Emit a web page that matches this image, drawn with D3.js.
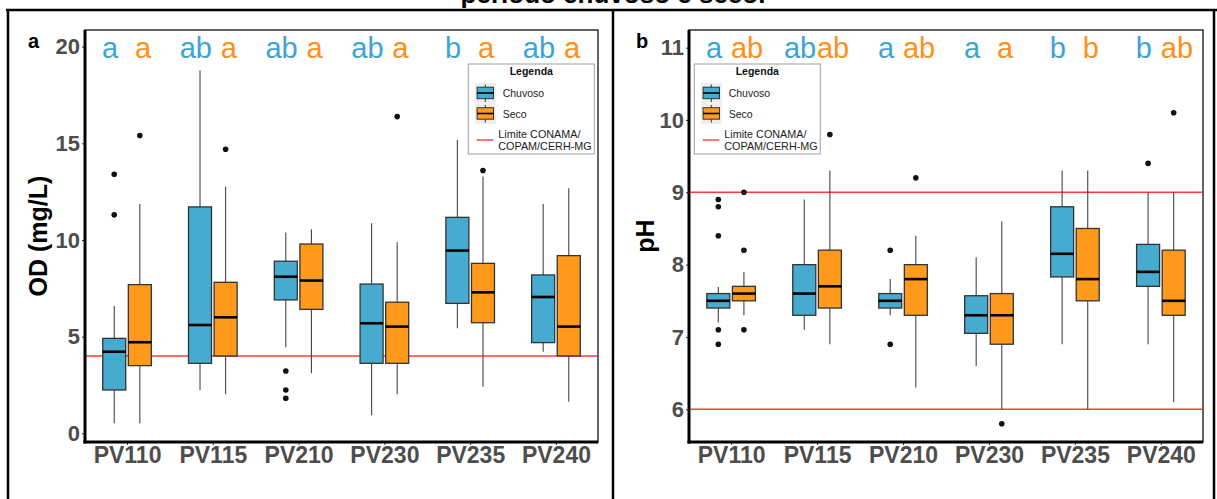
<!DOCTYPE html>
<html>
<head>
<meta charset="utf-8">
<script src="https://cdn.jsdelivr.net/npm/d3@7"></script>
<style>
  html, body { margin: 0; padding: 0; background: #fff; }
  svg { display: block; font-family: Arial, "Liberation Sans", Helvetica, sans-serif; }
</style>
</head>
<body>
<svg id="chart" width="1217" height="499"></svg>
<script>
// ---- data -------------------------------------------------------------
const categories = ["PV110", "PV115", "PV210", "PV230", "PV235", "PV240"];

// five-number summaries per station: [lower whisker, Q1, median, Q3, upper whisker]
const odChuvoso = [
  [0.52, 2.24, 4.22, 4.91, 6.59],
  [2.24, 3.62, 5.60, 11.71, 18.76],
  [4.45, 6.90, 8.10, 8.90, 10.38],
  [0.93, 3.62, 5.69, 7.72, 10.86],
  [5.43, 6.72, 9.45, 11.17, 15.17],
  [4.22, 4.69, 7.05, 8.19, 11.86]
];
const odSeco = [
  [0.52, 3.50, 4.71, 7.69, 11.86],
  [2.02, 4.00, 6.00, 7.81, 12.76],
  [3.10, 6.41, 7.90, 9.79, 10.55],
  [2.02, 3.62, 5.52, 6.78, 9.88],
  [2.41, 5.72, 7.29, 8.79, 13.28],
  [1.63, 4.00, 5.52, 9.19, 12.67]
];
const odChuvosoOutliers = [[13.4, 11.3], [], [3.22, 2.24, 1.81], [], [], []];
const odSecoOutliers = [[15.4], [14.69], [], [16.38], [13.59], []];

const phChuvoso = [
  [7.2, 7.4, 7.5, 7.6, 7.69],
  [7.1, 7.3, 7.6, 8.0, 8.9],
  [7.3, 7.4, 7.5, 7.6, 7.8],
  [6.6, 7.05, 7.3, 7.57, 8.1],
  [6.9, 7.83, 8.15, 8.8, 9.3],
  [6.9, 7.7, 7.9, 8.28, 9.0]
];
const phSeco = [
  [7.3, 7.5, 7.6, 7.7, 7.9],
  [6.9, 7.4, 7.7, 8.2, 9.3],
  [6.3, 7.3, 7.8, 8.0, 8.4],
  [6.0, 6.9, 7.3, 7.6, 8.6],
  [6.0, 7.5, 7.8, 8.5, 9.3],
  [6.1, 7.3, 7.5, 8.2, 9.0]
];
const phChuvosoOutliers = [[8.9, 8.8, 8.4, 7.1, 6.9], [], [8.2, 6.9], [], [], [9.4]];
const phSecoOutliers = [[9.0, 8.2, 7.1], [9.8], [9.2], [5.8], [], [10.1]];

// significance letters
const odLettersChuvoso = ["a", "ab", "ab", "ab", "b", "ab"];
const odLettersSeco = ["a", "a", "a", "a", "a", "a"];
const phLettersChuvoso = ["a", "ab", "a", "a", "b", "b"];
const phLettersSeco = ["ab", "ab", "ab", "a", "b", "ab"];

const odTicks = [0, 5, 10, 15, 20];
const phTicks = [6, 7, 8, 9, 10, 11];
const odLimits = [4];
const phLimits = [6, 9];

const seasons = ["Chuvoso", "Seco"];
const legendTitle = "Legenda";
const limitLabel = ["Limite CONAMA/", "COPAM/CERH-MG"];

// ---- styling ----------------------------------------------------------
const fillColor = { Chuvoso: "#47AACF", Seco: "#FF9A1C" };
const letterColor = { Chuvoso: "#3CA4D3", Seco: "#FF8E1A" };
const tickGray = "#4d4d4d";

const svg = d3.select("#chart");

// heading line (sits above the frame)
svg.append("text")
  .attr("x", 613).attr("y", 3)
  .attr("text-anchor", "middle")
  .attr("font-size", 26).attr("font-weight", "bold")
  .attr("fill", "#000")
  .text("período chuvoso e seco.");

// table frame
const frame = svg.append("g").attr("stroke", "#000").attr("stroke-width", 2.5);
frame.append("line").attr("x1", 6).attr("x2", 1217).attr("y1", 10).attr("y2", 10);
frame.append("line").attr("x1", 8).attr("x2", 8).attr("y1", 10).attr("y2", 499);
frame.append("line").attr("x1", 613).attr("x2", 613).attr("y1", 10).attr("y2", 499);
frame.append("line").attr("x1", 1214).attr("x2", 1214).attr("y1", 10).attr("y2", 499);

function drawPanel(cfg) {
  const top = 30, bottom = 442;
  const g = svg.append("g");

  const x = d3.scalePoint().domain(categories).range([cfg.left, cfg.right]).padding(0.49);
  const y = d3.scaleLinear().domain(cfg.yDomain).range([bottom, top]);
  const dodge = d3.scaleOrdinal().domain(seasons).range([-12.8, 12.8]);
  const letterDodge = d3.scaleOrdinal().domain(seasons).range([-17, 16]);
  const boxW = 23;

  // panel border
  g.append("rect")
    .attr("x", cfg.left).attr("y", top)
    .attr("width", cfg.right - cfg.left).attr("height", bottom - top)
    .attr("fill", "#fff").attr("stroke", "#222").attr("stroke-width", 1.4);

  // limit lines
  g.selectAll(".limit").data(cfg.limits).join("line")
    .attr("x1", cfg.left).attr("x2", cfg.right)
    .attr("y1", d => y(d)).attr("y2", d => y(d))
    .attr("stroke", "#ff1a1a").attr("stroke-opacity", 0.85).attr("stroke-width", 1.6);

  // boxplots
  const series = [
    { season: "Chuvoso", stats: cfg.chuvoso, outliers: cfg.chuvosoOut },
    { season: "Seco", stats: cfg.seco, outliers: cfg.secoOut }
  ];
  series.forEach(s => {
    categories.forEach((c, i) => {
      const [lo, q1, med, q3, hi] = s.stats[i];
      const cx = x(c) + dodge(s.season);
      const bg = g.append("g");
      bg.append("line").attr("x1", cx).attr("x2", cx).attr("y1", y(hi)).attr("y2", y(q3))
        .attr("stroke", "#444").attr("stroke-width", 1.1);
      bg.append("line").attr("x1", cx).attr("x2", cx).attr("y1", y(q1)).attr("y2", y(lo))
        .attr("stroke", "#444").attr("stroke-width", 1.1);
      bg.append("rect")
        .attr("x", cx - boxW / 2).attr("width", boxW)
        .attr("y", y(q3)).attr("height", y(q1) - y(q3))
        .attr("fill", fillColor[s.season]).attr("stroke", "#333").attr("stroke-width", 1.3);
      bg.append("line").attr("x1", cx - boxW / 2).attr("x2", cx + boxW / 2)
        .attr("y1", y(med)).attr("y2", y(med))
        .attr("stroke", "#000").attr("stroke-width", 2.6);
      bg.selectAll("circle").data(s.outliers[i]).join("circle")
        .attr("cx", cx).attr("cy", d => y(d)).attr("r", 2.8).attr("fill", "#111");
    });
    // significance letters
    g.selectAll(null).data(categories).join("text")
      .attr("x", c => x(c) + letterDodge(s.season))
      .attr("y", 58)
      .attr("text-anchor", "middle")
      .attr("font-size", 29)
      .attr("fill", letterColor[s.season])
      .text((c, i) => s.season === "Chuvoso" ? cfg.lettersChuvoso[i] : cfg.lettersSeco[i]);
  });

  // axes
  const yAxis = g.append("g").attr("transform", `translate(${cfg.left},0)`)
    .call(d3.axisLeft(y).tickValues(cfg.ticks).tickSize(3).tickPadding(2).tickFormat(d3.format("d")));
  yAxis.select(".domain").remove();
  yAxis.selectAll(".tick line").attr("stroke", "#333");
  yAxis.selectAll(".tick text")
    .attr("font-size", 22).attr("font-weight", "bold").attr("fill", tickGray)
    .attr("font-family", "Arial, 'Liberation Sans', sans-serif");

  const xAxis = g.append("g").attr("transform", `translate(0,${bottom})`)
    .call(d3.axisBottom(x).tickSize(3).tickPadding(2));
  xAxis.select(".domain").remove();
  xAxis.selectAll(".tick line").attr("stroke", "#333");
  xAxis.selectAll(".tick text")
    .attr("font-size", 23).attr("font-weight", "bold").attr("fill", tickGray)
    .attr("font-family", "Arial, 'Liberation Sans', sans-serif");

  // thick axis lines
  g.append("line").attr("x1", cfg.left).attr("x2", cfg.left).attr("y1", top).attr("y2", bottom + 1.5)
    .attr("stroke", "#000").attr("stroke-width", 3);
  g.append("line").attr("x1", cfg.left - 1.5).attr("x2", cfg.right).attr("y1", bottom).attr("y2", bottom)
    .attr("stroke", "#000").attr("stroke-width", 3);

  // axis title
  g.append("text")
    .attr("transform", `translate(${cfg.titleX},236) rotate(-90)`)
    .attr("text-anchor", "middle").attr("dominant-baseline", "central")
    .attr("font-size", 25).attr("font-weight", "bold").attr("fill", "#000")
    .text(cfg.title);

  // panel tag
  g.append("text")
    .attr("x", cfg.tagX).attr("y", 48)
    .attr("font-size", 20).attr("font-weight", "bold").attr("fill", "#000")
    .text(cfg.tag);

  // legend
  const lg = g.append("g").attr("transform", `translate(${cfg.legendX},64)`);
  lg.append("rect").attr("width", 126).attr("height", 90)
    .attr("fill", "#fff").attr("stroke", "#a0a0a0").attr("stroke-width", 1);
  lg.append("text").attr("x", 63).attr("y", 11).attr("text-anchor", "middle")
    .attr("font-size", 10.5).attr("font-weight", "bold").attr("fill", "#111")
    .text(legendTitle);
  seasons.forEach((s, k) => {
    const ky = 19 + k * 20.5;
    lg.append("rect").attr("x", 6.5).attr("y", ky).attr("width", 21).attr("height", 20.5)
      .attr("fill", "#eeeeee");
    lg.append("line").attr("x1", 17).attr("x2", 17).attr("y1", ky + 1.5).attr("y2", ky + 19)
      .attr("stroke", "#333").attr("stroke-width", 1);
    lg.append("rect").attr("x", 8.8).attr("y", ky + 4.2).attr("width", 16.4).attr("height", 11.5)
      .attr("fill", fillColor[s]).attr("stroke", "#333").attr("stroke-width", 1);
    lg.append("line").attr("x1", 8.8).attr("x2", 25.2).attr("y1", ky + 10).attr("y2", ky + 10)
      .attr("stroke", "#000").attr("stroke-width", 1.6);
    lg.append("text").attr("x", 34.4).attr("y", ky + 10).attr("dominant-baseline", "central")
      .attr("font-size", 10.5).attr("fill", "#222").text(s);
  });
  lg.append("line").attr("x1", 8.4).attr("x2", 25).attr("y1", 76).attr("y2", 76)
    .attr("stroke", "#ff1a1a").attr("stroke-width", 1.2);
  lg.selectAll(null).data(limitLabel).join("text")
    .attr("x", 30).attr("y", (d, i) => 69.5 + i * 12.7)
    .attr("dominant-baseline", "central")
    .attr("font-size", 10.8).attr("fill", "#222")
    .text(d => d);
}

drawPanel({
  left: 85, right: 598, yDomain: [-0.45, 20.86], ticks: odTicks, limits: odLimits,
  chuvoso: odChuvoso, seco: odSeco, chuvosoOut: odChuvosoOutliers, secoOut: odSecoOutliers,
  lettersChuvoso: odLettersChuvoso, lettersSeco: odLettersSeco,
  title: "OD (mg/L)", titleX: 37.5, tag: "a", tagX: 28, legendX: 468.3
});

drawPanel({
  left: 689, right: 1203, yDomain: [5.548, 11.244], ticks: phTicks, limits: phLimits,
  chuvoso: phChuvoso, seco: phSeco, chuvosoOut: phChuvosoOutliers, secoOut: phSecoOutliers,
  lettersChuvoso: phLettersChuvoso, lettersSeco: phLettersSeco,
  title: "pH", titleX: 645, tag: "b", tagX: 636, legendX: 694.3
});
</script>
</body>
</html>
